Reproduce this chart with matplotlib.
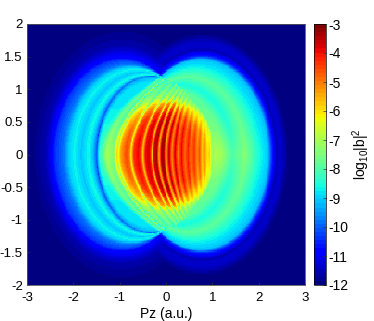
import numpy as np
import matplotlib
matplotlib.use('Agg')
import matplotlib.pyplot as plt

plt.rcParams['font.family'] = ['Liberation Sans', 'DejaVu Sans']
plt.rcParams['mathtext.fontset'] = 'custom'
plt.rcParams['mathtext.rm'] = 'Liberation Sans'
plt.rcParams['mathtext.default'] = 'regular'
plt.rcParams['axes.unicode_minus'] = False

x_ticks = [-3, -2, -1, 0, 1, 2, 3]
y_ticks = [-2, -1.5, -1, -0.5, 0, 0.5, 1, 1.5, 2]
y_labels = ['-2', '-1.5', '-1', '-0.5', '0', '0.5', '1', '1.5', '2']
c_ticks = [-3, -4, -5, -6, -7, -8, -9, -10, -11, -12]

# values along y=0 through the central fringes
fringe_x = [-1.45, -1.38, -1.27, -1.14, -1.08, -0.98, -0.85, -0.79, -0.755, -0.70, -0.60, -0.54, -0.50, -0.45, -0.37, -0.33,
            -0.30, -0.26, -0.20, -0.15, -0.10, -0.05, 0.0, 0.065, 0.13, 0.195, 0.26, 0.335, 0.41, 0.475, 0.54, 0.605, 0.67,
            0.725, 0.78, 0.83, 0.885, 0.94, 0.99, 1.05, 1.1, 1.3]
fringe_v = [-8.2, -8.0, -7.0, -7.5, -6.2, -4.5, -4.2, -4.7, -6.0, -4.3, -3.9, -4.3, -5.8, -4.0, -3.7, -4.2,
            -5.8, -3.7, -3.4, -5.6, -3.4, -3.3, -5.5, -3.4, -5.2, -3.6, -5.0, -3.9, -4.9, -4.1, -5.0, -4.3, -5.2,
            -4.5, -5.5, -4.8, -5.6, -5.2, -6.2, -6.4, -7.0, -7.4]

# fall-off of the central part with elliptical radius
rho_pts = [0, 0.62, 0.8, 1.0, 1.1, 1.2, 1.45, 1.7, 2.0]
rho_drop = [0, 0, -0.4, -1.6, -2.9, -3.4, -3.9, -4.6, -5.2]
rho_amp = [1, 1, 1, 0.9, 0.6, 0.45, 0.4, 0.35, 0.3]

# rings of the left lobe, 0 = dark arc, 1 = outer edge
left_s = [0.0, 0.08, 0.18, 0.35, 0.52, 0.64, 0.76, 0.97, 1.0]
left_v = [-10.0, -9.1, -8.6, -9.1, -8.7, -9.0, -9.8, -10.4, -10.7]
# rings of the right lobe
right_s = [0.0, 0.14, 0.32, 0.54, 0.77, 0.94, 1.0]
right_v = [-6.9, -7.1, -8.0, -7.4, -8.5, -9.1, -10.4]
# tail outside the lobes
tail_d = [0.0, 0.1, 0.2, 0.35, 0.55]
left_tail = [-10.7, -11.2, -11.6, -11.8, -12.0]
right_tail = [-10.4, -11.5, -11.3, -11.9, -12.0]

xg = np.linspace(-3, 3, 301)
yg = np.linspace(-2, 2, 201)
X, Y = np.meshgrid(xg, yg)
Ya = np.abs(Y)


def dist(cx):
    return np.hypot(X - cx, Ya)


def lobe(cin, rin, cout, rout, s_pts, s_vals, tail_vals):
    a = dist(cin) - rin
    b = rout - dist(cout)
    s = np.clip(a / np.maximum(a + b, 1e-3), 0, 1)
    z = np.interp(s, s_pts, s_vals)
    out = b < 0
    z[out] = np.interp(-b[out], tail_d, tail_vals)
    z[a < 0] = -12
    return z, a, s


left, a_left, s_left = lobe(-0.30, 1.20, -0.95, 1.47, left_s, left_v, left_tail)
right, a_right, s_right = lobe(0.10, 0.93, 0.78, 1.50, right_s, right_v, right_tail)
# right rings are weaker next to the fringes away from the axis
right_weak = np.interp(Ya, [0, 0.4, 0.8], [0, 0.6, 0.9]) * (1 - s_right)
right = np.where(a_right > 0, right - right_weak, right)

# central part, fringes bend towards +x away from the axis
y2 = np.minimum(Ya ** 2, 1.6)
x0 = (X - 0.4 * y2) / (1 - 0.35 * y2)
fr = np.interp(x0, fringe_x, fringe_v)
rho = np.hypot(X / 1.1, Y / 0.78)
mid = np.interp(rho, rho_pts, rho_drop) - 4 + np.interp(rho, rho_pts, rho_amp) * (fr + 4)
# the cap left of the first lobe keeps its own axis values
cap = fr + np.interp(Ya, [0, 0.25, 0.55, 1.0], [0, -0.2, -0.5, -0.7])
mid = np.where(x0 < -1.06, cap, mid)
# dark arc is deep on the axis and thin further out
edge_depth = np.interp(Ya, [0, 0.4, 0.8, 1.2], [-2.4, -1.8, -1.2, -0.6])
edge = edge_depth * np.interp(-a_left, [0, 0.03, 0.08], [1, 0.4, 0])
mid = np.where(X < 0.2, mid + edge, mid)
mid[(a_left > 0) & (a_right > 0)] = -12

field = np.maximum(np.maximum(left, right), mid)

fig = plt.figure(figsize=(3.74, 3.21), dpi=100)
ax = fig.add_axes([27 / 374, 1 - 285 / 321, 278 / 374, 261 / 321])
pc = ax.pcolormesh(xg, yg, field, cmap=plt.get_cmap('jet', 64), vmin=-12, vmax=-3, shading='nearest')
ax.set_xlim(-3, 3)
ax.set_ylim(-2, 2)
ax.set_xticks(x_ticks)
ax.set_yticks(y_ticks)
ax.set_yticklabels(y_labels)
ax.tick_params(direction='in', length=2.5, width=0.5, labelsize=9.5, color='#333333')
ax.tick_params(axis='x', pad=5)
ax.tick_params(axis='y', pad=3)
ax.set_xlabel('Pz (a.u.)', fontsize=10, labelpad=2)
for s in ax.spines.values():
    s.set_linewidth(0.6)
    s.set_color('#555555')

cax = fig.add_axes([314 / 374, 1 - 285 / 321, 12 / 374, 261 / 321])
cb = fig.colorbar(pc, cax=cax)
cb.set_ticks(c_ticks)
cb.ax.tick_params(direction='in', length=2, width=0.5, labelsize=10, pad=2, color='#333333')
cb.outline.set_linewidth(0.5)
cb.set_label('log$_{10}$|b|$^{2}$', fontsize=10, labelpad=1)

fig.savefig('out.png', dpi=100)
